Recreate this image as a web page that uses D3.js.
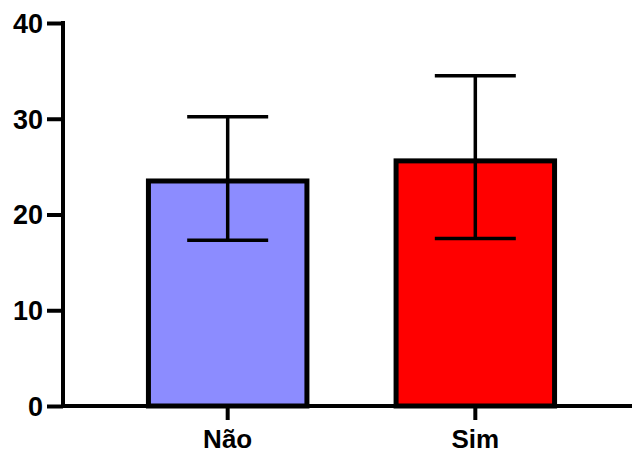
<!DOCTYPE html>
<html>
<head>
<meta charset="utf-8">
<script src="https://cdn.jsdelivr.net/npm/d3@7"></script>
<style>
  html, body { margin: 0; padding: 0; background: #fff; }
  svg { display: block; }
  text { font-family: "Liberation Sans", Arial, Helvetica, sans-serif; font-weight: bold; fill: #000; }
</style>
</head>
<body>
<svg id="chart" width="633" height="455"></svg>
<script>
const categories = ["Não", "Sim"];
const means = [23.5, 25.6];
const upper = [30.2, 34.5];
const lower = [17.3, 17.5];
const colors = ["#8c8cff", "#ff0000"];
const yTicks = [0, 10, 20, 30, 40];

const svg = d3.select("#chart");
const x0 = 63, xEnd = 632, yTop = 23, yBottom = 406;

const y = d3.scaleLinear().domain([0, 40]).range([yBottom, yTop]);
const x = d3.scaleBand().domain(categories).range([x0, 640]).paddingInner(0.36).paddingOuter(0.345);

// bars
svg.selectAll("rect.bar").data(categories).enter().append("rect")
  .attr("class", "bar")
  .attr("x", d => x(d))
  .attr("width", x.bandwidth())
  .attr("y", (d, i) => y(means[i]))
  .attr("height", (d, i) => y(0) - y(means[i]))
  .attr("fill", (d, i) => colors[i])
  .attr("stroke", "#000")
  .attr("stroke-width", 5);

// error bars
const capW = 81;
const eg = svg.selectAll("g.err").data(categories).enter().append("g").attr("class", "err");
eg.append("line")
  .attr("x1", d => x(d) + x.bandwidth() / 2).attr("x2", d => x(d) + x.bandwidth() / 2)
  .attr("y1", (d, i) => y(upper[i])).attr("y2", (d, i) => y(lower[i]))
  .attr("stroke", "#000").attr("stroke-width", 3.5);
eg.append("line")
  .attr("x1", d => x(d) + x.bandwidth() / 2 - capW / 2).attr("x2", d => x(d) + x.bandwidth() / 2 + capW / 2)
  .attr("y1", (d, i) => y(upper[i])).attr("y2", (d, i) => y(upper[i]))
  .attr("stroke", "#000").attr("stroke-width", 3.5);
eg.append("line")
  .attr("x1", d => x(d) + x.bandwidth() / 2 - capW / 2).attr("x2", d => x(d) + x.bandwidth() / 2 + capW / 2)
  .attr("y1", (d, i) => y(lower[i])).attr("y2", (d, i) => y(lower[i]))
  .attr("stroke", "#000").attr("stroke-width", 3.5);

// y axis
const yAxis = d3.axisLeft(y).tickValues(yTicks).tickSize(16).tickPadding(4).tickFormat(d3.format("d"));
const gy = svg.append("g").attr("transform", `translate(${x0},0)`).call(yAxis);
gy.select(".domain").remove();
gy.selectAll(".tick line").attr("stroke", "#000").attr("stroke-width", 4);
gy.selectAll(".tick text").attr("font-size", 27).attr("font-family", "Liberation Sans, Arial, sans-serif").attr("font-weight", "bold").attr("fill", "#000").attr("dy", "0.35em");
svg.append("line").attr("x1", x0).attr("x2", x0).attr("y1", yTop - 2).attr("y2", yBottom + 2)
  .attr("stroke", "#000").attr("stroke-width", 4);

// x axis
const xAxis = d3.axisBottom(x).tickSize(14).tickPadding(10);
const gx = svg.append("g").attr("transform", `translate(0,${yBottom})`).call(xAxis);
gx.select(".domain").remove();
gx.selectAll(".tick line").attr("stroke", "#000").attr("stroke-width", 4);
gx.selectAll(".tick text").attr("font-size", 26).attr("font-family", "Liberation Sans, Arial, sans-serif").attr("font-weight", "bold").attr("fill", "#000");
svg.append("line").attr("x1", x0 - 2).attr("x2", xEnd).attr("y1", yBottom).attr("y2", yBottom)
  .attr("stroke", "#000").attr("stroke-width", 4);
</script>
</body>
</html>
